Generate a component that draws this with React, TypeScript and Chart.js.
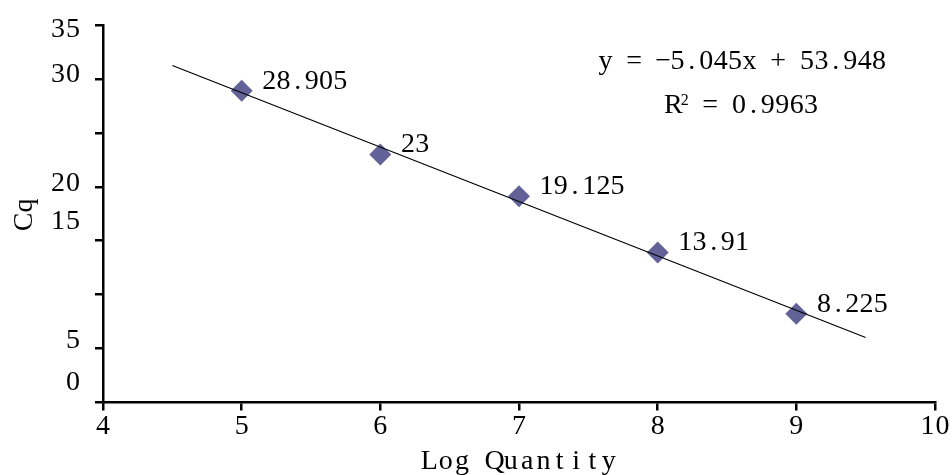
import React, { useEffect, useRef } from "react";
import { Chart, registerables } from "chart.js";

Chart.register(...registerables);

const FONT = "'Liberation Serif', 'DejaVu Serif', serif";

// Data
const logQuantity = [5, 6, 7, 8, 9];
const cqValues = [28.905, 23, 19.125, 13.91, 8.225];
const pointLabels = ["28.905", "23", "19.125", "13.91", "8.225"];

// Trendline (from the fitted equation)
const slope = -5.045;
const intercept = 53.948;
const rSquared = "0.9963";
const trendX = [4.5, 9.5];

// Axes
const xMin = 4;
const xMax = 10;
const xTickLabels = ["4", "5", "6", "7", "8", "9", "10"];
const yMin = 0;
const yMax = 35;
const yTickLabels = ["0", "5", "15", "20", "30", "35"];
const yTickLabelPos = [2.07, 5.96, 17.0, 20.53, 30.64, 34.8];
const xTitle = "Log Quantity";
const yTitle = "Cq";

// Equation anchor (in data units)
const eqAnchorX = 8.61;
const eqLine1Y = 31.75;
const eqLine2Y = 27.65;

// Draw text on a fixed character grid (half-width CJK style)
function drawMono(ctx: CanvasRenderingContext2D, text: string, x: number, y: number, cell: number, align: "left" | "center" | "right") {
  const chars = Array.from(text);
  const total = chars.length * cell;
  let start = x;
  if (align === "center") start = x - total / 2;
  else if (align === "right") start = x - total;
  ctx.textAlign = "center";
  chars.forEach((ch, i) => {
    if (ch !== " ") ctx.fillText(ch, start + cell * (i + 0.5), y);
  });
}

const textPlugin = {
  id: "customText",
  afterDatasetsDraw(chart: any) {
    const { ctx, scales, chartArea } = chart;
    const x = scales.x;
    const y = scales.y;
    ctx.save();
    ctx.fillStyle = "#000";
    ctx.textBaseline = "alphabetic";

    // point labels
    ctx.font = `28px ${FONT}`;
    logQuantity.forEach((xv, i) => {
      const px = x.getPixelForValue(xv);
      const py = y.getPixelForValue(cqValues[i]);
      drawMono(ctx, pointLabels[i], px + 20.5, py - 2, 14.2, "left");
    });

    // x tick labels
    ctx.font = `28px ${FONT}`;
    xTickLabels.forEach((t) => {
      drawMono(ctx, t, x.getPixelForValue(Number(t)), chartArea.bottom + 31, 15, "center");
    });

    // y tick labels
    yTickLabels.forEach((t, i) => {
      drawMono(ctx, t, 80.5, y.getPixelForValue(yTickLabelPos[i]) + 9.5, 15, "right");
    });

    // axis titles
    ctx.font = `28px ${FONT}`;
    drawMono(ctx, xTitle, (chartArea.left + chartArea.right) / 2, 469, 16.3, "center");
    ctx.save();
    ctx.translate(32, (chartArea.top + chartArea.bottom) / 2);
    ctx.rotate(-Math.PI / 2);
    drawMono(ctx, yTitle, 0, 0, 16.3, "center");
    ctx.restore();

    // equation
    const cx = x.getPixelForValue(eqAnchorX);
    const sign = intercept >= 0 ? "+" : "\u2212";
    const eq = `y = ${slope.toFixed(3).replace("-", "\u2212")}x ${sign} ${Math.abs(intercept).toFixed(3)}`;
    ctx.font = `28px ${FONT}`;
    drawMono(ctx, eq, cx, y.getPixelForValue(eqLine1Y) + 9, 14.4, "center");

    // R^2 line
    const ly = y.getPixelForValue(eqLine2Y) + 9;
    const cell = 14.4;
    const supW = 8;
    const rest = ` = ${rSquared}`;
    const total = cell + supW + Array.from(rest).length * cell;
    let sx = cx - total / 2;
    drawMono(ctx, "R", sx, ly, cell, "left");
    sx += cell;
    ctx.font = `16px ${FONT}`;
    ctx.textAlign = "center";
    ctx.fillText("2", sx + supW / 2, ly - 8);
    sx += supW;
    ctx.font = `28px ${FONT}`;
    drawMono(ctx, rest, sx, ly, cell, "left");
    ctx.restore();
  },
};

export default function App() {
  const canvasRef = useRef<HTMLCanvasElement | null>(null);

  useEffect(() => {
    if (!canvasRef.current) return;
    const scatterData = logQuantity.map((xv, i) => ({ x: xv, y: cqValues[i] }));
    const trendData = trendX.map((xv) => ({ x: xv, y: slope * xv + intercept }));

    const chart = new Chart(canvasRef.current, {
      type: "scatter",
      data: {
        datasets: [
          {
            type: "line",
            label: "Trend",
            data: trendData,
            borderColor: "#000",
            borderWidth: 1.2,
            pointRadius: 0,
            fill: false,
          } as any,
          {
            label: "Cq",
            data: scatterData,
            pointStyle: "rectRot",
            pointRadius: 11,
            pointHoverRadius: 11,
            backgroundColor: "#626299",
            borderColor: "#626299",
            borderWidth: 0,
          },
        ],
      },
      options: {
        animation: false,
        responsive: true,
        maintainAspectRatio: false,
        layout: { padding: { left: 0, right: 17, top: 25, bottom: 0 } },
        plugins: {
          legend: { display: false },
          tooltip: { enabled: false },
        },
        scales: {
          x: {
            type: "linear",
            min: xMin,
            max: xMax,
            afterFit: (s: any) => {
              s.height = 72.5;
            },
            ticks: { stepSize: 1, display: false },
            grid: {
              display: true,
              drawOnChartArea: false,
              drawTicks: true,
              tickLength: 8,
              color: "#000",
              lineWidth: 2.5,
            },
            border: { display: true, color: "#000", width: 2.5 },
          },
          y: {
            type: "linear",
            min: yMin,
            max: yMax,
            afterFit: (s: any) => {
              s.width = 103;
            },
            ticks: { stepSize: 5, display: false },
            grid: {
              display: true,
              drawOnChartArea: false,
              drawTicks: true,
              tickLength: 8,
              color: "#000",
              lineWidth: 2.5,
            },
            border: { display: true, color: "#000", width: 2.5 },
          },
        },
      },
      plugins: [textPlugin],
    });
    return () => chart.destroy();
  }, []);

  return (
    <div style={{ position: "absolute", left: 0, top: 0, width: 952, height: 475, background: "#fff" }}>
      <canvas ref={canvasRef} />
    </div>
  );
}
